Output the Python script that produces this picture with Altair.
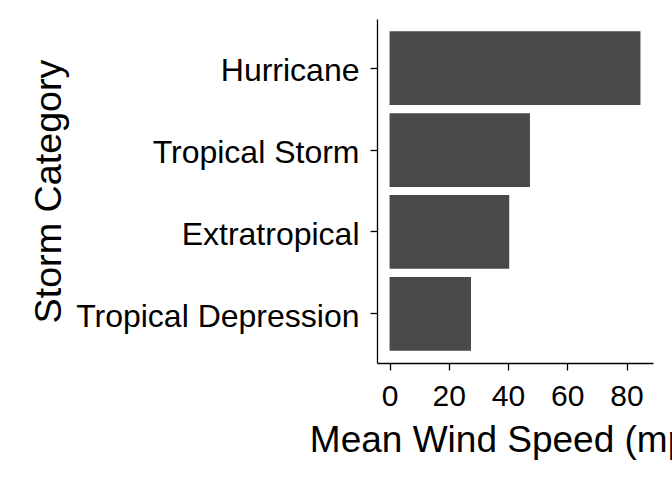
import altair as alt
import pandas as pd

categories = ["Hurricane", "Tropical Storm", "Extratropical", "Tropical Depression"]
mean_wind = [84.7, 47.4, 40.4, 27.5]
x_ticks = [0, 20, 40, 60, 80]

df = pd.DataFrame({"category": categories, "wind": mean_wind})

FONT = "Liberation Sans, Arial, Helvetica, sans-serif"

chart = alt.Chart(df).mark_bar(color="#494949").encode(
    x=alt.X(
        "wind:Q",
        scale=alt.Scale(domain=[-4.235, 88.935], nice=False, zero=False),
        axis=alt.Axis(
            title="Mean Wind Speed (mph)",
            values=x_ticks,
            grid=False,
            domainColor="black",
            domainWidth=1.3,
            tickColor="black",
            tickWidth=1.3,
            tickSize=7,
            labelFont=FONT,
            labelFontSize=30,
            labelColor="black",
            labelPadding=11,
            labelFlush=False,
            labelOverlap=False,
            titleFont=FONT,
            titleFontSize=37,
            titleFontWeight="normal",
            titleColor="black",
            titleBaseline="alphabetic",
            titleY=88.7,
        ),
    ),
    y=alt.Y(
        "category:N",
        sort=categories,
        scale=alt.Scale(paddingInner=0.1, paddingOuter=0.15),
        axis=alt.Axis(
            title="Storm Category",
            grid=False,
            domainColor="black",
            domainWidth=1.3,
            tickColor="black",
            tickWidth=1.3,
            tickSize=7,
            labelFont=FONT,
            labelFontSize=32,
            labelColor="black",
            labelPadding=11,
            labelOffset=3,
            labelLimit=0,
            titleFont=FONT,
            titleFontSize=37.7,
            titleFontWeight="normal",
            titleColor="black",
            titleBaseline="alphabetic",
            titleX=-316.3,
        ),
    ),
).properties(
    width=276,
    height=344,
    padding={"left": 377, "top": 19, "right": 19, "bottom": 117},
    autosize=alt.AutoSizeParams(type="none"),
).configure(background="white").configure_view(stroke=None)

chart.save("out.html", embed_options={"renderer": "svg", "actions": False})
